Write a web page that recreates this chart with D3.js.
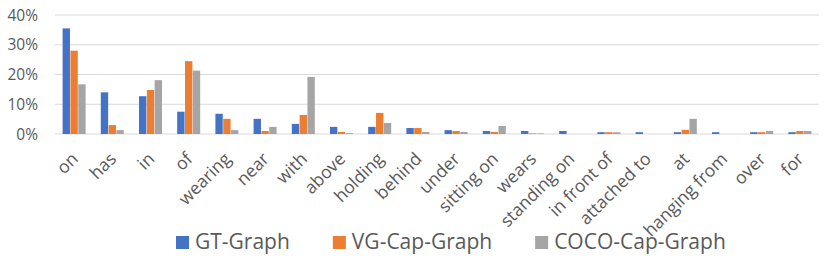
<!DOCTYPE html>
<html>
<head>
<meta charset="utf-8">
<script src="https://cdn.jsdelivr.net/npm/d3@7"></script>
<style>
  body { margin: 0; background: #fff; }
  svg { display: block; font-family: "Open Sans", sans-serif; }
</style>
</head>
<body>
<div id="chart"></div>
<script>
// Relation frequency per graph source
const categories = ['on', 'has', 'in', 'of', 'wearing', 'near', 'with', 'above', 'holding', 'behind',
  'under', 'sitting on', 'wears', 'standing on', 'in front of', 'attached to', 'at', 'hanging from', 'over', 'for'];
const seriesNames = ['GT-Graph', 'VG-Cap-Graph', 'COCO-Cap-Graph'];
const gtGraph    = [35.5, 14.0, 12.7, 7.5, 6.8, 5.1, 3.4, 2.4, 2.4, 2.0, 1.3, 1.0, 1.0, 1.0, 0.6, 0.6, 0.6, 0.6, 0.6, 0.6];
const vgCapGraph = [28.0, 3.0, 14.8, 24.5, 5.1, 1.0, 6.4, 0.7, 7.1, 2.0, 1.0, 0.7, 0.2, 0, 0.6, 0, 1.4, 0, 0.6, 1.0];
const cocoCapGraph = [16.7, 1.3, 18.1, 21.3, 1.3, 2.4, 19.2, 0.3, 3.7, 0.7, 0.7, 2.7, 0.2, 0, 0.6, 0, 5.1, 0, 1.0, 1.0];
const yTicks = [0, 10, 20, 30, 40];
const colors = ['#4472C4', '#ED7D31', '#A5A5A5'];

const width = 830, height = 264;
const svg = d3.select('#chart').append('svg')
  .attr('width', width)
  .attr('height', height);

const x = d3.scaleBand().domain(categories).range([55, 819]).padding(0);
const xs = d3.scaleBand().domain(seriesNames).range([0, 23]).paddingInner(0.06);
const y = d3.scaleLinear().domain([0, 40]).range([134, 15]);

// gridlines
svg.append('g')
  .selectAll('line')
  .data(yTicks)
  .enter()
  .append('line')
  .attr('x1', 55)
  .attr('x2', 819)
  .attr('y1', d => y(d))
  .attr('y2', d => y(d))
  .attr('stroke', '#d9d9d9')
  .attr('stroke-width', 1.2);

// y tick labels
svg.append('g')
  .selectAll('text')
  .data(yTicks)
  .enter()
  .append('text')
  .attr('x', 38)
  .attr('y', d => y(d))
  .attr('dy', '0.36em')
  .attr('text-anchor', 'end')
  .attr('fill', '#595959')
  .attr('font-size', '15.5px')
  .text(d => d + '%');

// bars
const series = [gtGraph, vgCapGraph, cocoCapGraph];
const groupOffset = (x.bandwidth() - 23) / 2;
series.forEach((vals, si) => {
  svg.append('g')
    .selectAll('rect')
    .data(vals)
    .enter()
    .append('rect')
    .attr('x', (d, i) => x(categories[i]) + groupOffset + xs(seriesNames[si]))
    .attr('y', d => y(d))
    .attr('width', xs.bandwidth())
    .attr('height', d => y(0) - y(d))
    .attr('fill', colors[si]);
});

// category labels, rotated
svg.append('g')
  .selectAll('text')
  .data(categories)
  .enter()
  .append('text')
  .attr('transform', d => `translate(${x(d) + x.bandwidth() / 2 + 5},160) rotate(-45)`)
  .attr('text-anchor', 'end')
  .attr('fill', '#595959')
  .attr('font-size', '17.5px')
  .text(d => d);

// legend
let lx = 176;
seriesNames.forEach((name, i) => {
  svg.append('rect')
    .attr('x', lx)
    .attr('y', 236)
    .attr('width', 13)
    .attr('height', 13)
    .attr('fill', colors[i]);
  const t = svg.append('text')
    .attr('x', lx + 19)
    .attr('y', 249)
    .attr('fill', '#595959')
    .attr('font-size', '21px')
    .text(name);
  lx += 19 + t.node().getComputedTextLength() + 43;
});
</script>
</body>
</html>
